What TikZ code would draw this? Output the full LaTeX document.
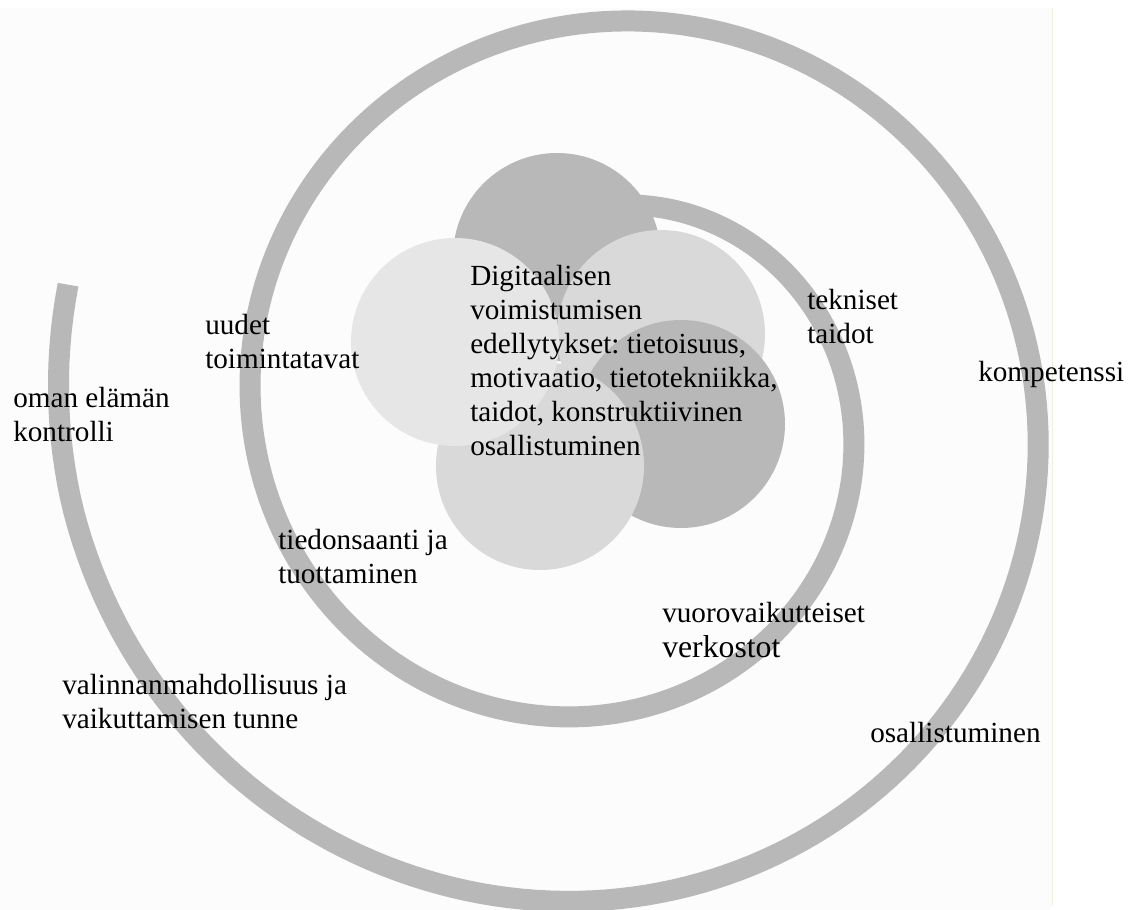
\documentclass[tikz,border=0pt]{standalone}
\usepackage{fontspec}
\setmainfont{Liberation Serif}
\frenchspacing
\definecolor{bandgray}{HTML}{B8B8B8}
\definecolor{discdark}{HTML}{B8B8B8}
\definecolor{discmid}{HTML}{D9D9D9}
\definecolor{disclight}{HTML}{E6E6E6}
\definecolor{paper}{HTML}{FCFCFC}
\definecolor{pageedge}{HTML}{F3F3C0}
\begin{document}
\begin{tikzpicture}[x=0.75pt,y=-0.75pt,
  spiralband/.style={draw=bandgray, line width=15.75pt, line cap=butt},
  disc/.style={circle, minimum size=156pt, inner sep=0pt, draw=none},
  lbl/.style={anchor=base west, inner sep=0pt, align=left, font=\rmfamily\fontsize{21.9pt}{25.5pt}\selectfont}]
\useasboundingbox (0,0) rectangle (1133,910);
\fill[paper] (0,8) rectangle (1052,910);
\draw[pageedge, line width=0.75pt] (1052,8) -- (1052,905);
% spiral
\draw[spiralband] plot[domain=-10:644, samples=400, variable=\t]
  ({598+(208+0.513889*\t)*sin(\t)-min(1,max(0,(\t-560)/60))*7}, {415-(208+0.513889*\t)*cos(\t)});
% circles
\node[disc, fill=discdark]  (ctop)    at (557,257) {};
\node[disc, fill=discmid]   (cright)  at (661,334) {};
\node[disc, fill=discdark]  (cbright) at (681,424) {};
\node[disc, fill=discmid]   (cbottom) at (540,466) {};
\node[disc, fill=disclight] (cleft)   at (455,342) {};
% labels (base = baseline of the last line)
\node[lbl] (center) at (470,455) {Digitaalisen\\voimistumisen\\edellytykset: tietoisuus,\\motivaatio, tietotekniikka,\\taidot, konstruktiivinen\\osallistuminen};
\node[lbl] (tekn) at (807,343) {tekniset\\taidot};
\node[lbl] (komp) at (978,381) {kompetenssi};
\node[lbl] (uudet) at (205,368) {uudet\\toimintatavat};
\node[lbl] (oman) at (13,441) {oman elämän\\kontrolli};
\node[lbl] (tied) at (278,583) {tiedonsaanti ja\\tuottaminen};
\node[lbl, font=\rmfamily\fontsize{21.9pt}{26.25pt}\selectfont] (vuoro) at (662,657) {vuorovaikutteiset\\{\fontsize{23.8pt}{26.25pt}\selectfont verkostot}};
\node[lbl] (valin) at (62,728) {valinnanmahdollisuus ja\\vaikuttamisen tunne};
\node[lbl] (osal) at (870,742) {osallistuminen};
\end{tikzpicture}
\end{document}
